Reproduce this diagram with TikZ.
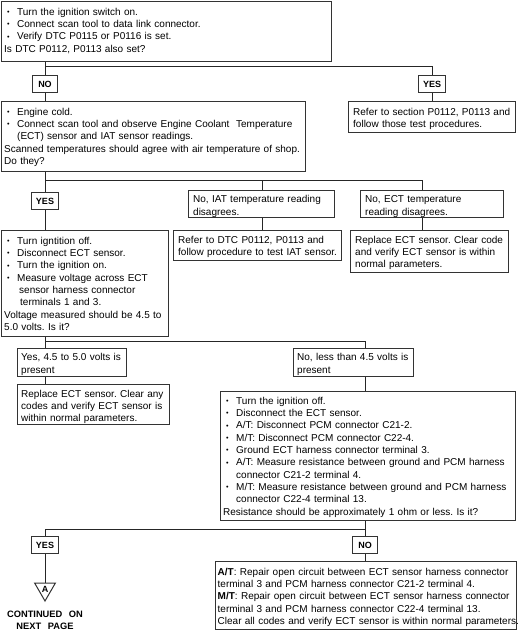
\documentclass[tikz,border=0pt]{standalone}
\usepackage{fontspec}
\setmainfont{Liberation Sans}
\usetikzlibrary{shapes.geometric}
\newcommand\fs{\fontsize{10}{12.3}\selectfont\frenchspacing}
\newcommand\bul{\hbox to 13pt{\hspace{2.8pt}\raisebox{0.8pt}{\fontsize{7.2}{7.2}\selectfont\textbullet}\hss}}
\newcommand\itm[1]{\noindent\hangindent=13pt\hangafter=1\strut\bul#1\par}
\newcommand\pln[1]{\noindent\strut#1\par}
\begin{document}
\begin{tikzpicture}[x=1pt,y=-1pt,
  bx/.style={draw=black!80, line width=1pt, inner sep=0pt, anchor=north west},
  tx/.style={anchor=north west, inner xsep=3pt, inner ysep=5.5pt, font=\fs, text width=360pt,
    execute at begin node={\raggedright\parindent=0pt}},
  lab/.style={draw=black!80, line width=1pt, fill=white, font=\bfseries\fontsize{9}{9}\selectfont,
    inner xsep=4.5pt, inner ysep=0pt, text height=6.5pt, text depth=0pt, minimum height=17pt, minimum width=25pt},
  ln/.style={draw=black!85, line width=1pt},
  tri/.style={draw=black!80, line width=1pt, regular polygon, regular polygon sides=3,
    shape border rotate=180, minimum size=24pt, inner sep=0pt, font=\bfseries\fontsize{9}{9}\selectfont}]
\useasboundingbox (0,0) rectangle (518,636);

% ---------- boxes ----------
\node[bx, minimum width=330pt, minimum height=60pt] (b1) at (1,1) {};
\node[tx] (t1) at (b1.north west) {%
\itm{Turn the ignition switch on.}%
\itm{Connect scan tool to data link connector.}%
\itm{Verify DTC P0115 or P0116 is set.}%
\pln{Is DTC P0112, P0113 also set?}};

\node[bx, minimum width=304pt, minimum height=70pt] (b2) at (1,101) {};
\node[tx] (t2) at (b2.north west) {%
\itm{Engine cold.}%
\itm{Connect scan tool and observe Engine Coolant\ \ Temperature\newline(ECT) sensor and IAT sensor readings.}%
\pln{Scanned temperatures should agree with air temperature of shop.}%
\pln{Do they?}};

\node[bx, minimum width=167pt, minimum height=31pt] (r1) at (348,101) {};
\node[tx, inner xsep=5pt] (tr1) at (r1.north west) {%
\pln{Refer to section P0112, P0113 and\newline follow those test procedures.}};

\node[bx, minimum width=146pt, minimum height=27pt] (iat) at (188,190) {};
\node[tx, inner xsep=5pt, inner ysep=4pt] (tiat) at (iat.north west) {%
\pln{No, IAT temperature reading\newline disagrees.}};

\node[bx, minimum width=143pt, minimum height=27pt] (ect) at (360,190) {};
\node[tx, inner xsep=5pt, inner ysep=4pt] (tect) at (ect.north west) {%
\pln{No, ECT temperature\newline reading disagrees.}};

\node[bx, minimum width=168pt, minimum height=30pt] (r2) at (173,230) {};
\node[tx, inner xsep=5pt, inner ysep=4.5pt] (tr2) at (r2.north west) {%
\pln{Refer to DTC P0112, P0113 and\newline follow procedure to test IAT sensor.}};

\node[bx, minimum width=158pt, minimum height=42pt] (rep1) at (350,230) {};
\node[tx, inner xsep=5pt, inner ysep=4.5pt] (trep1) at (rep1.north west) {%
\pln{Replace ECT sensor. Clear code\newline and verify ECT sensor is within\newline normal parameters.}};

\node[bx, minimum width=167pt, minimum height=106pt] (b3) at (1,230) {};
\node[tx] (t3) at (b3.north west) {%
\itm{Turn igntition off.}%
\itm{Disconnect ECT sensor.}%
\itm{Turn the ignition on.}%
\itm{Measure voltage across ECT\newline\hspace*{2pt}sensor harness connector\newline\hspace*{3pt}terminals 1 and 3.}%
\pln{Voltage measured should be 4.5 to\newline 5.0 volts. Is it?}};

\node[bx, minimum width=109pt, minimum height=28pt] (y45) at (17,348) {};
\node[tx, inner xsep=4pt, inner ysep=4pt] (ty45) at (y45.north west) {%
\pln{Yes, 4.5 to 5.0 volts is\newline present}};

\node[bx, minimum width=120pt, minimum height=28pt] (n45) at (293,348) {};
\node[tx, inner xsep=4pt, inner ysep=4pt] (tn45) at (n45.north west) {%
\pln{No, less than 4.5 volts is\newline present}};

\node[bx, minimum width=152pt, minimum height=40pt] (rep2) at (17,384) {};
\node[tx, inner xsep=4pt, inner ysep=4.5pt] (trep2) at (rep2.north west) {%
\pln{Replace ECT sensor. Clear any\newline codes and verify ECT sensor is\newline within normal parameters.}};

\node[bx, minimum width=295pt, minimum height=129pt] (big) at (220,391) {};
\node[tx, inner ysep=4.5pt] (tbig) at (big.north west) {%
\itm{Turn the ignition off.}%
\itm{Disconnect the ECT sensor.}%
\itm{A/T: Disconnect PCM connector C21-2.}%
\itm{M/T: Disconnect PCM connector C22-4.}%
\itm{Ground ECT harness connector terminal 3.}%
\itm{A/T: Measure resistance between ground and PCM harness\newline connector C21-2 terminal 4.}%
\itm{M/T: Measure resistance between ground and PCM harness\newline connector C22-4 terminal 13.}%
\pln{Resistance should be approximately 1 ohm or less. Is it?}};

\node[bx, minimum width=301pt, minimum height=68pt] (bot) at (215,561) {};
\node[tx, inner xsep=2.5pt, inner ysep=5.5pt] (tbot) at (bot.north west) {%
\pln{\textbf{A/T}: Repair open circuit between ECT sensor harness connector\newline terminal 3 and PCM harness connector C21-2 terminal 4.}%
\pln{\textbf{M/T}: Repair open circuit between ECT sensor harness connector\newline terminal 3 and PCM harness connector C22-4 terminal 13.}%
\pln{Clear all codes and verify ECT sensor is within normal parameters.}};

% ---------- labels ----------
\node[lab] (no1) at (45,84) {NO};
\node[lab] (yes1) at (432,84) {YES};
\node[lab] (yes2) at (45,201) {YES};
\node[lab] (yes3) at (45,545) {YES};
\node[lab] (no3) at (365,545) {NO};
\node[tri] (tri) at (45,589) {A};
\node[font=\bfseries\fontsize{9.3}{12}\selectfont, align=center, inner sep=0pt] (cont) at (45,620)
  {CONTINUED\hspace{4pt} ON\\NEXT\hspace{4pt} PAGE};

% ---------- connectors ----------
\coordinate (j1) at (45,67);
\draw[ln] (b1.south -| no1) -- (no1.north);
\draw[ln] (no1.south) -- (b2.north -| no1);
\draw[ln] (j1) -| (yes1.north);
\draw[ln] (yes1.south) -- (r1.north -| yes1);

\coordinate (j2) at (45,181);
\coordinate (i2) at (262,181);
\coordinate (e2) at (422,181);
\draw[ln] (b2.south -| yes2) -- (yes2.north);
\draw[ln] (yes2.south) -- (b3.north -| yes2);
\draw[ln] (j2) -- (e2) -- (e2 |- ect.north);
\draw[ln] (i2) -- (i2 |- iat.north);
\draw[ln] (iat.south -| i2) -- (r2.north -| i2);
\draw[ln] (ect.south -| e2) -- (rep1.north -| e2);

\coordinate (j3) at (45,341);
\coordinate (k3) at (365,341);
\draw[ln] (b3.south -| j3) -- (j3) -- (k3) -- (k3 |- n45.north);
\draw[ln] (j3) -- (j3 |- y45.north);
\draw[ln] (y45.south -| j3) -- (rep2.north -| j3);
\draw[ln] (n45.south -| k3) -- (big.north -| k3);

\coordinate (j4) at (45,529);
\draw[ln] (big.south -| no3) -- (no3.north);
\draw[ln] (j4) -- (j4 -| no3);
\draw[ln] (j4) -- (yes3.north);
\draw[ln] (yes3.south) -- (tri.north);
\draw[ln] (no3.south) -- (bot.north -| no3);
\end{tikzpicture}
\end{document}
